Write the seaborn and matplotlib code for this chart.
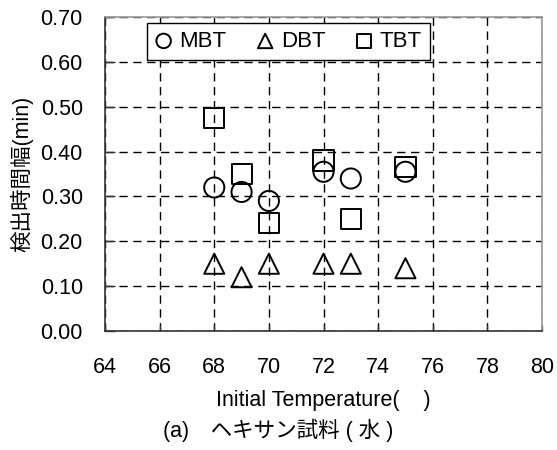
import matplotlib
matplotlib.use("Agg")
import matplotlib.pyplot as plt
import seaborn as sns
import pandas as pd

# data
temp = [68, 69, 70, 72, 73, 75]
mbt = [0.32, 0.31, 0.29, 0.355, 0.34, 0.355]
dbt = [0.15, 0.12, 0.15, 0.15, 0.15, 0.14]
tbt = [0.475, 0.35, 0.24, 0.38, 0.25, 0.365]
series = ["MBT", "DBT", "TBT"]
marker_map = {"MBT": "o", "DBT": "^", "TBT": "s"}
x_ticks = [64, 66, 68, 70, 72, 74, 76, 78, 80]
y_ticks = [0.0, 0.1, 0.2, 0.3, 0.4, 0.5, 0.6, 0.7]

sns.set_style("white")
plt.rcParams["font.family"] = ["Liberation Sans", "Noto Sans CJK JP", "DejaVu Sans"]
plt.rcParams["text.color"] = "black"
plt.rcParams["axes.labelcolor"] = "black"
plt.rcParams["xtick.color"] = "black"
plt.rcParams["ytick.color"] = "black"

fig = plt.figure(figsize=(5.57, 4.5), dpi=100)
ax = fig.add_axes([0.1885, 0.2644, 0.7846, 0.6978])

values = {"MBT": mbt, "DBT": dbt, "TBT": tbt}
for name in series:
    df = pd.DataFrame({"temp": temp, "width": values[name]})
    sns.scatterplot(data=df, x="temp", y="width", marker=marker_map[name],
                    s=210, facecolors="none", edgecolor="black",
                    linewidth=1.4, label=name, ax=ax, zorder=3)

ax.set_xlim(64, 80)
ax.set_ylim(0, 0.70)
ax.set_xticks(x_ticks)
ax.set_yticks(y_ticks)
ax.set_xticklabels([str(t) for t in x_ticks])
ax.set_yticklabels([f"{t:.2f}" for t in y_ticks])
ax.grid(True, color="black", linestyle=(0, (6, 4)), linewidth=1.0)
ax.set_axisbelow(True)

ax.tick_params(axis="y", direction="in", length=7, width=1, pad=16,
               labelsize=15.5, left=True, color="#333333")
ax.tick_params(axis="x", direction="in", length=4, width=1, pad=19,
               labelsize=15.5, bottom=True, color="#333333")

for side in ["top", "right"]:
    ax.spines[side].set_color("#999999")
    ax.spines[side].set_linewidth(1.2)
for side in ["left", "bottom"]:
    ax.spines[side].set_color("#333333")
    ax.spines[side].set_linewidth(1.2)

ax.set_xlabel("Initial Temperature(    )", fontsize=15.5, labelpad=8)
ax.set_ylabel("検出時間幅(min)", fontsize=15.5, labelpad=5)

leg = ax.legend(loc="upper left", bbox_to_anchor=(0.096, 0.981), ncol=3,
                fontsize=16, frameon=True, fancybox=False, framealpha=1,
                edgecolor="black", handlelength=0.8, handletextpad=0.3,
                columnspacing=1.35, markerscale=0.72, borderpad=0.35,
                borderaxespad=0)
leg.get_frame().set_linewidth(1.0)

fig.text(0.5, 0.044, "(a)　ヘキサン試料 ( 水 )", ha="center", va="center",
         fontsize=15.5)

plt.savefig("out.png", dpi=100)
plt.close()
